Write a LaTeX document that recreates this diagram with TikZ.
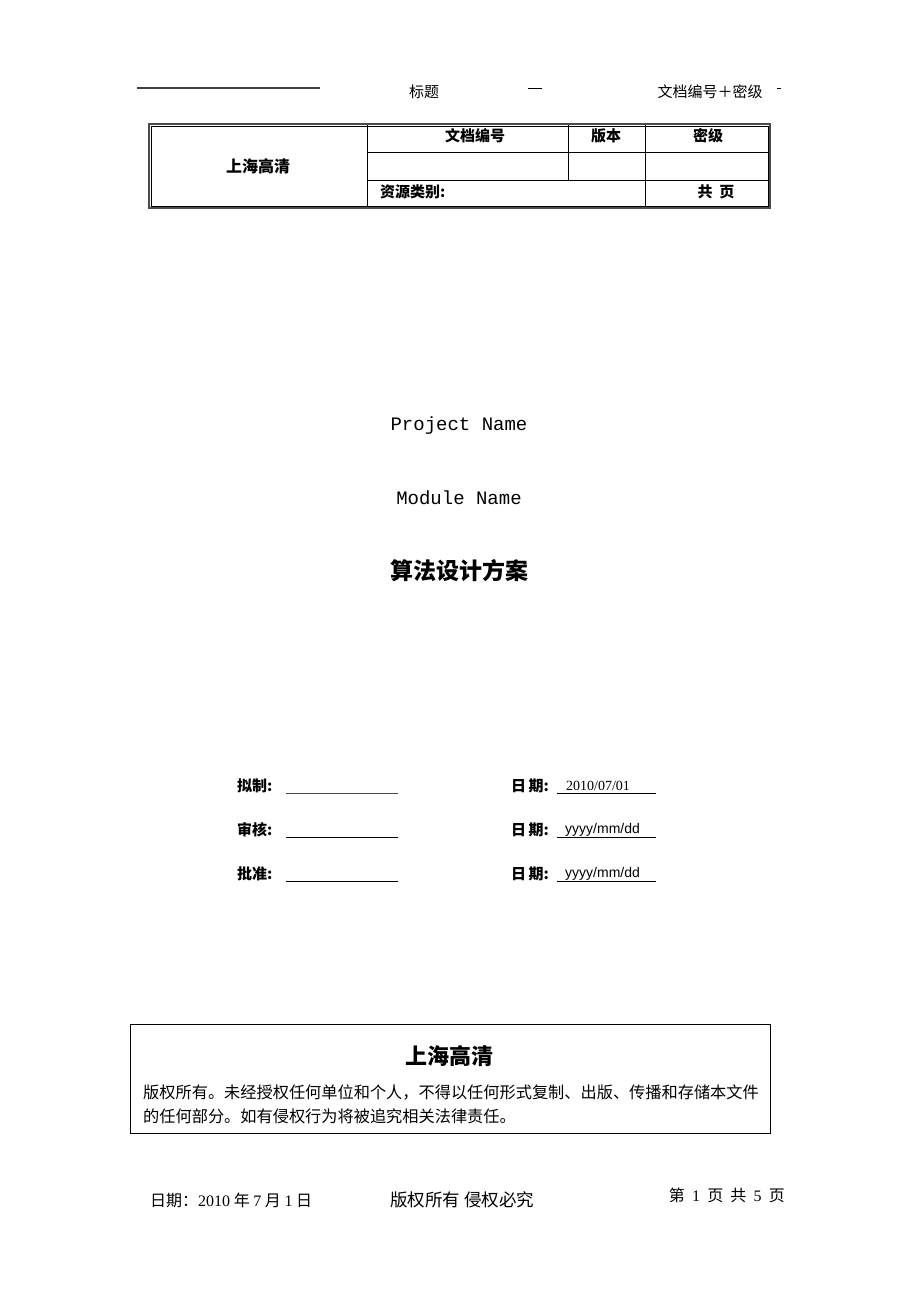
\documentclass[tikz,border=0pt]{standalone}
\usepackage{fontspec}
\setmainfont{Liberation Serif}
\setsansfont{Liberation Sans}
\setmonofont{Liberation Mono}
\newfontfamily\cjk{Noto Sans CJK SC}
\begin{document}
\begin{tikzpicture}[x=1pt,y=-1pt,
  hdr/.style={font=\cjk\fontsize{15}{15}\selectfont, inner sep=0pt},
  cell/.style={font=\cjk\bfseries\fontsize{15}{15}\selectfont, inner sep=0pt},
  title/.style={font=\ttfamily\fontsize{19}{19}\selectfont, inner sep=0pt},
  lab/.style={font=\cjk\bfseries\fontsize{15}{15}\selectfont, inner sep=0pt, anchor=west},
  body/.style={font=\cjk\fontsize{16.2}{16.2}\selectfont, inner sep=0pt, anchor=west},
  foot/.style={font=\cjk\fontsize{16}{16}\selectfont, inner sep=0pt},
  rule/.style={line width=0.6pt}]
\useasboundingbox (0,0) rectangle (920,1302);
% header
\coordinate (hl1) at (137,88);
\coordinate (hl2) at (320,88);
\draw[line width=1.2pt, black!75] (hl1) -- (hl2);
\node[hdr] (htitle) at (424,92) {标题};
\coordinate (hd1) at (528,88);
\coordinate (hd2) at (542,88);
\draw[line width=1pt] (hd1) -- (hd2);
\node[hdr] (hcode) at (710,92) {文档编号＋密级};
\coordinate (hm1) at (777,88);
\coordinate (hm2) at (781,88);
\draw[line width=1pt] (hm1) -- (hm2);
% table
\coordinate (tA) at (149,124);
\coordinate (tB) at (770,208);
\draw[line width=1.8pt, black!70] (tA) rectangle (tB);
\draw[rule] (151,126) rectangle (768,206);
\draw[rule] (367,125) -- (367,207);
\draw[rule] (367,152) -- (769,152);
\draw[rule] (367,180) -- (769,180);
\draw[rule] (568,125) -- (568,180);
\draw[rule] (645,125) -- (645,207);
\node[cell, font=\cjk\bfseries\fontsize{16}{16}\selectfont] (tco) at (258,166) {上海高清};
\node[cell] (tdoc) at (475,136) {文档编号};
\node[cell] (tver) at (606,136) {版本};
\node[cell] (tsec) at (708,136) {密级};
\node[cell, anchor=west] (tres) at (380,192) {资源类别:};
\node[cell] (tpg) at (716,192) {共\ \ 页};
% titles
\node[title] (proj) at (459,426) {Project Name};
\node[title] (mod) at (459,498) {Module Name};
\node[font=\cjk\bfseries\fontsize{23}{23}\selectfont, inner sep=0pt] (alg) at (459,571) {算法设计方案};
% signatures
\node[lab] (s1) at (237,786) {拟制:};
\node[lab] (s2) at (237,830) {审核:};
\node[lab] (s3) at (237,874) {批准:};
\coordinate (u1a) at (286,793); \coordinate (u1b) at (398,793);
\coordinate (u2a) at (286,837); \coordinate (u2b) at (398,837);
\coordinate (u3a) at (286,881); \coordinate (u3b) at (398,881);
\draw[line width=0.8pt, black!70] (u1a) -- (u1b);
\draw[line width=0.8pt] (u2a) -- (u2b);
\draw[line width=0.8pt] (u3a) -- (u3b);
\node[lab] (d1) at (511,786) {日\,期:};
\node[lab] (d2) at (511,830) {日\,期:};
\node[lab] (d3) at (511,874) {日\,期:};
\node[font=\fontsize{14}{14}\selectfont, inner sep=0pt, anchor=west] (dv1) at (566,786) {2010/07/01};
\node[font=\sffamily\fontsize{14}{14}\selectfont, inner sep=0pt, anchor=west] (dv2) at (565,830) {yyyy/mm/dd};
\node[font=\sffamily\fontsize{14}{14}\selectfont, inner sep=0pt, anchor=west] (dv3) at (565,874) {yyyy/mm/dd};
\coordinate (v1a) at (557,793); \coordinate (v1b) at (656,793);
\coordinate (v2a) at (557,837); \coordinate (v2b) at (656,837);
\coordinate (v3a) at (557,881); \coordinate (v3b) at (656,881);
\draw[line width=0.8pt] (v1a) -- (v1b);
\draw[line width=0.8pt] (v2a) -- (v2b);
\draw[line width=0.8pt] (v3a) -- (v3b);
% copyright box
\coordinate (bA) at (130,1024);
\coordinate (bB) at (770,1133);
\draw[line width=1pt] (bA) rectangle (bB);
\node[font=\cjk\bfseries\fontsize{22}{22}\selectfont, inner sep=0pt] (bco) at (449,1056) {上海高清};
\node[body] (bl1) at (143,1092) {版权所有。未经授权任何单位和个人，不得以任何形式复制、出版、传播和存储本文件};
\node[body] (bl2) at (143,1116) {的任何部分。如有侵权行为将被追究相关法律责任。};
% footer
\node[foot, anchor=west] (fdate) at (150,1200) {日期：\textrm{2010}\ 年\ \textrm{7}\ 月\ \textrm{1}\ 日};
\node[foot, anchor=west, font=\cjk\fontsize{17.5}{17.5}\selectfont] (fcopy) at (390,1200) {版权所有\ 侵权必究};
\node[foot, anchor=east] (fpage) at (785,1195) {第\ \ \textrm{1}\ \ 页\ \ 共\ \ \textrm{5}\ \ 页};
\end{tikzpicture}
\end{document}
